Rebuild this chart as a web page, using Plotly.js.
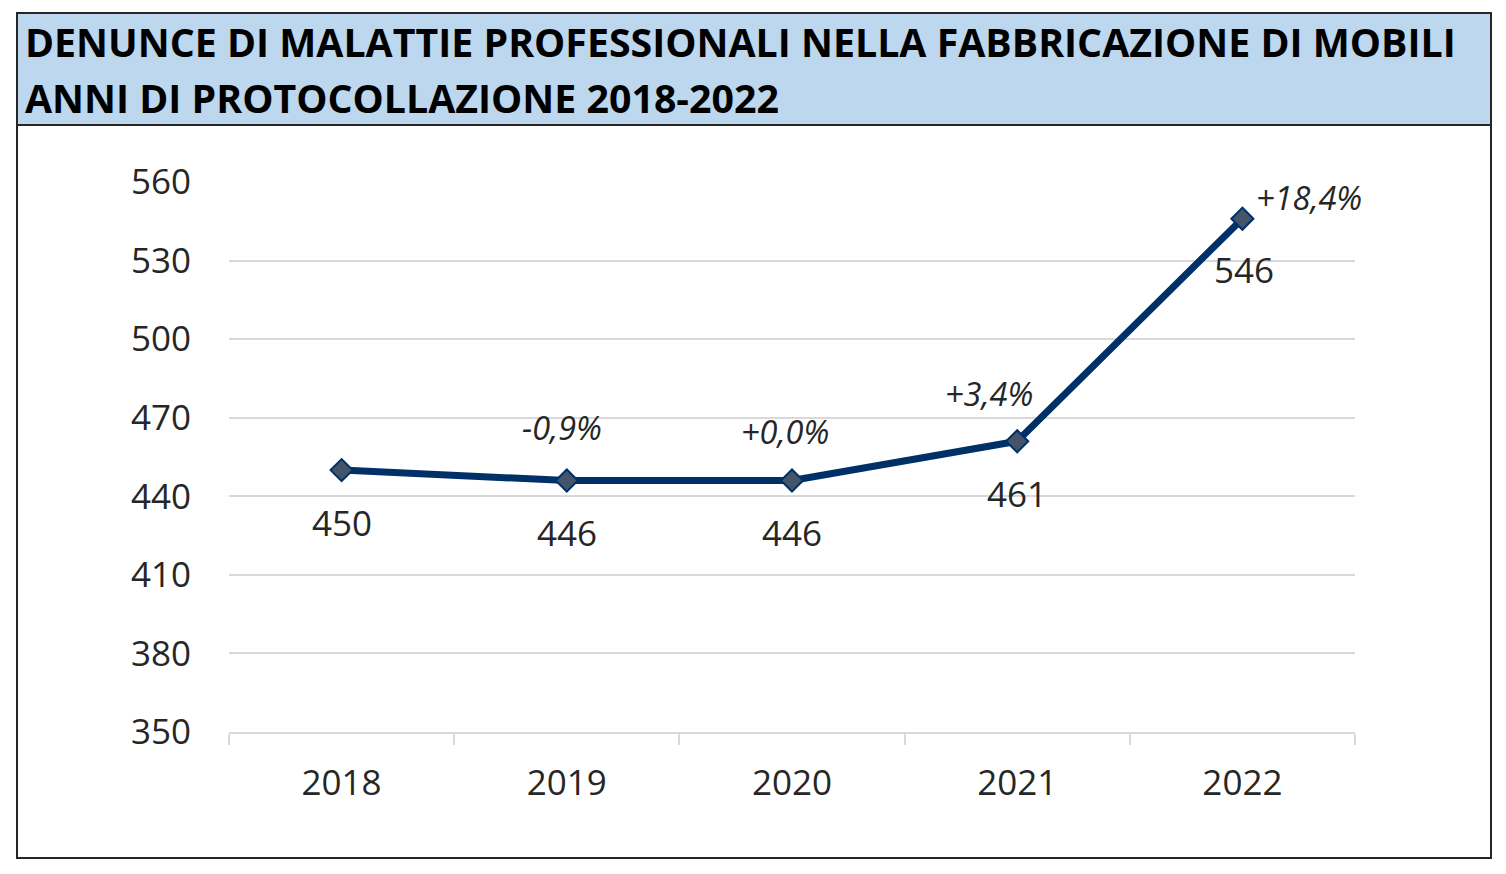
<!DOCTYPE html>
<html>
<head>
<meta charset="utf-8">
<script src="https://cdn.plot.ly/plotly-3.0.1.min.js"></script>
<style>
html,body{margin:0;padding:0;background:#fff;}
#chart{width:1506px;height:874px;}
</style>
</head>
<body>
<div id="chart"></div>
<script>
// ---- data ----
const years = ["2018", "2019", "2020", "2021", "2022"];
const denunce = [450, 446, 446, 461, 546];
const variazioni = ["", "-0,9%", "+0,0%", "+3,4%", "+18,4%"];
const titleLines = [
  "DENUNCE DI MALATTIE PROFESSIONALI NELLA FABBRICAZIONE DI MOBILI",
  "ANNI DI PROTOCOLLAZIONE 2018-2022"
];
const yTicks = [350, 380, 410, 440, 470, 500, 530, 560];

// ---- layout geometry (pixels) ----
const W = 1506, H = 874;
const L = 229, R = 1355, T = 182, B = 732;
const px = p => (p - L) / (R - L);
const py = p => (B - p) / (B - T);

const FONT = "Open Sans, Noto Sans, DejaVu Sans, sans-serif";
const navy = "#003068";

// label offsets (style)
const pctShift = [[0,0],[-5,53],[-7,49],[-28,48],[67,21]];
const valShift = [[0,-52],[0,-52],[0,-52],[0,-52],[2,-51]];

const annotations = [];
years.forEach((yr, i) => {
  annotations.push({
    x: i, y: denunce[i], xref: "x", yref: "y",
    text: String(denunce[i]), showarrow: false,
    xshift: valShift[i][0], yshift: valShift[i][1],
    font: {family: FONT, size: 35, color: "#262626"}
  });
  if (variazioni[i]) {
    annotations.push({
      x: i, y: denunce[i], xref: "x", yref: "y",
      text: "<i>" + variazioni[i] + "</i>", showarrow: false,
      xshift: pctShift[i][0], yshift: pctShift[i][1],
      font: {family: FONT, size: 32.5, color: "#262626"}
    });
  }
});
titleLines.forEach((t, i) => {
  annotations.push({
    x: px(23), y: py(i === 0 ? 42 : 98), xref: "paper", yref: "paper",
    xanchor: "left", yanchor: "middle", showarrow: false,
    text: "<b>" + t + "</b>",
    font: {family: FONT, size: 39.3, color: "#000"}
  });
});

const shapes = [
  {type: "rect", xref: "paper", yref: "paper",
   x0: px(17), x1: px(1491), y0: py(858), y1: py(13),
   line: {color: "#262626", width: 2}, fillcolor: "rgba(0,0,0,0)", layer: "below"},
  {type: "rect", xref: "paper", yref: "paper",
   x0: px(17), x1: px(1491), y0: py(125), y1: py(13),
   line: {color: "#262626", width: 2}, fillcolor: "#bdd7ee", layer: "below"}
];

const trace = {
  x: years, y: denunce, type: "scatter", mode: "lines+markers",
  line: {color: navy, width: 7},
  marker: {symbol: "diamond", size: 17, color: "#44546a", line: {color: navy, width: 2}},
  hoverinfo: "skip", cliponaxis: false
};

const layout = {
  width: W, height: H,
  margin: {l: L, r: W - R, t: T, b: H - B, pad: 0},
  paper_bgcolor: "#fff", plot_bgcolor: "#fff",
  showlegend: false,
  xaxis: {
    type: "category", range: [-0.5, 4.5], fixedrange: true,
    showgrid: false, zeroline: false,
    showline: true, linecolor: "#d9d9d9", linewidth: 2,
    ticks: "outside", tickson: "boundaries", ticklen: 11, tickwidth: 2, tickcolor: "#d9d9d9",
    tickfont: {family: FONT, size: 35, color: "#262626"},
    ticklabelstandoff: 19
  },
  yaxis: {
    range: [350, 560], tickvals: yTicks, ticktext: yTicks.map(String), fixedrange: true,
    showgrid: true, gridcolor: "#d9d9d9", gridwidth: 2,
    zeroline: false, showline: false, ticks: "",
    tickfont: {family: FONT, size: 35, color: "#262626"},
    ticklabelstandoff: 37
  },
  annotations: annotations,
  shapes: shapes
};

Plotly.newPlot("chart", [trace], layout, {displayModeBar: false, staticPlot: true});
</script>
</body>
</html>
